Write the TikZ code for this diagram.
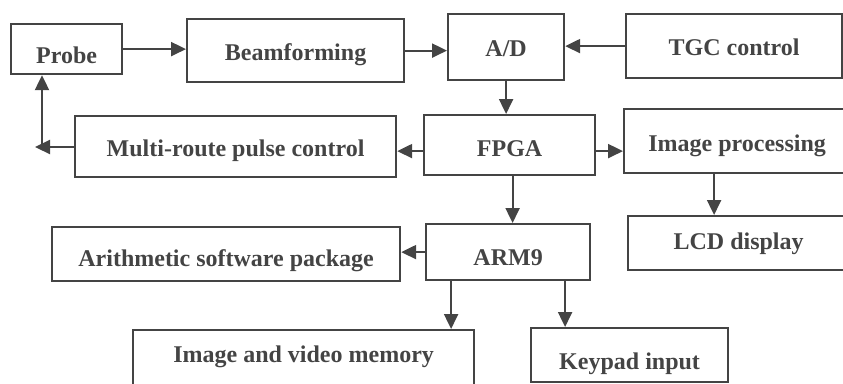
\documentclass[tikz,border=0pt]{standalone}
\usepackage{fontspec}
\setmainfont{Liberation Serif}
\usetikzlibrary{arrows.meta}
\definecolor{ink}{HTML}{444444}
\tikzset{
  blk/.style n args={3}{draw=ink, text=ink, line width=2.2pt, inner sep=0pt,
    anchor=north west, minimum width=#1pt, text height=#2pt, text depth=#3pt,
    font=\fontsize{24}{28}\selectfont\bfseries},
  flow/.style={draw=ink, line width=2.2pt, -{Triangle[length=15pt,width=14pt]}},
  wire/.style={draw=ink, line width=2.2pt}
}
\begin{document}
\begin{tikzpicture}[x=1pt,y=-1pt]
\useasboundingbox (0,0) rectangle (843,383);
\clip (0,0) rectangle (843,383);

% blocks: position is the top-left corner
\node[blk={111}{39}{11}]   (probe)  at (10,23)   {Probe};
\node[blk={217}{41}{22}]   (beam)   at (186,18)  {Beamforming};
\node[blk={116}{42}{24}]   (ad)     at (447,13)  {A/D};
\node[blk={216}{41}{23}]   (tgc)    at (625,13)  {TGC control};
\node[blk={321}{40}{21}]   (pulse)  at (74,115)  {Multi-route pulse control};
\node[blk={171}{41.5}{18.5}] (fpga) at (423,114) {FPGA};
\node[blk={226}{42.5}{21.5}] (improc) at (623,108) {Image processing};
\node[blk={348}{39}{15}]   (arith)  at (51,226)  {Arithmetic software package};
\node[blk={164}{41}{15}]   (arm)    at (425,223) {ARM9};
\node[blk={221}{33}{21}]   (lcd)    at (627,215) {LCD display};
\node[blk={341}{32}{34}]   (mem)    at (132,329) {Image and video memory};
\node[blk={197}{41}{13}]   (keypad) at (530,327) {Keypad input};

% feedback loop from the pulse control back to the probe
\coordinate (tip)  at (35,147);
\coordinate (bend) at (42,147);

% connectors
\draw[flow] (probe.east) -- (probe.east -| beam.west);
\draw[flow] (beam.east) -- (beam.east -| ad.west);
\draw[flow] (tgc.west) -- (tgc.west -| ad.east);
\draw[flow] (ad.south) -- (ad.south |- fpga.north);
\draw[flow] ([yshift=-6pt]fpga.west) -- ([yshift=-6pt]fpga.west -| pulse.east);
\draw[flow] ([yshift=-6pt]fpga.east) -- ([yshift=-6pt]fpga.east -| improc.west);
\draw[flow] ([xshift=3pt]fpga.south) -- ([xshift=3pt]fpga.south |- arm.north);
\draw[flow] ([xshift=-23pt]improc.south) -- ([xshift=-23pt]improc.south |- lcd.north);
\draw[flow] (arm.west) -- (arm.west -| arith.east);
\draw[flow] ([xshift=-57pt]arm.south) -- ([xshift=-57pt]arm.south |- mem.north);
\draw[flow] ([xshift=57pt]arm.south) -- ([xshift=57pt]arm.south |- keypad.north);
\draw[flow] (pulse.west |- tip) -- (tip);
\draw[flow] (bend) -- (bend |- probe.south);
\end{tikzpicture}
\end{document}
